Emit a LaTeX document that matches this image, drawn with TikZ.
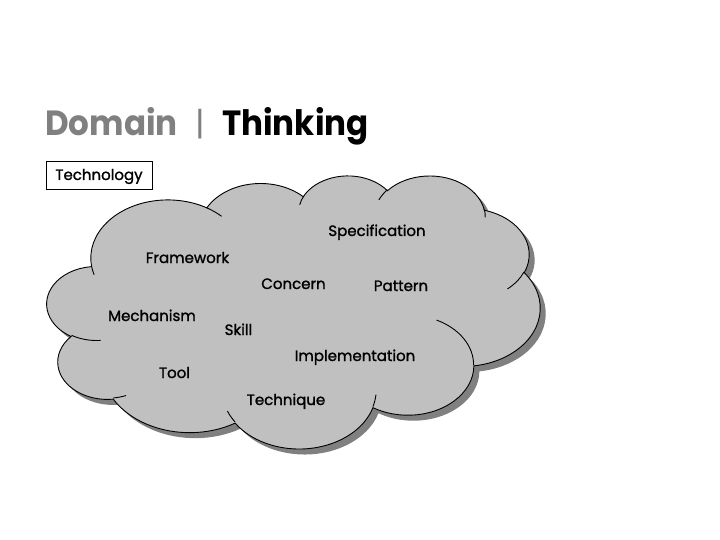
\documentclass[tikz,border=0pt]{standalone}
\usepackage{fontspec}
\setmainfont{Poppins}
\newfontfamily\lblfont{Poppins}[FakeBold=1.3]
\definecolor{cloudfill}{HTML}{C0C0C0}
\definecolor{cloudshadow}{HTML}{808080}
\definecolor{titlegray}{HTML}{808080}
\tikzset{
  lbl/.style={anchor=base, inner sep=0pt, text=black, font=\lblfont\fontsize{15}{18}\selectfont},
  titletext/.style={anchor=base west, inner sep=0pt, xscale=0.93, font=\fontsize{35}{40}\selectfont\bfseries},
  cloudedge/.style={draw=black, line width=0.9pt},
  techbox/.style={draw=black, line width=0.8pt, minimum width=106pt, minimum height=28pt, inner sep=0pt, text height=11pt, text depth=1pt, font=\lblfont\fontsize{15}{17}\selectfont},
}
\newcommand{\cloudpath}{(39.00,143.70)
  arc[start angle=172.26, delta angle=128.10, x radius=67.53, y radius=91.90]
  arc[start angle=-152.02, delta angle=106.60, x radius=53.33, y radius=72.67]
  arc[start angle=-153.49, delta angle=116.18, x radius=43.65, y radius=59.45]
  arc[start angle=-139.71, delta angle=129.50, x radius=48.57, y radius=65.95]
  arc[start angle=-74.77, delta angle=97.98, x radius=53.33, y radius=72.73]
  arc[start angle=-37.53, delta angle=119.39, x radius=67.75, y radius=92.20]
  arc[start angle=0.46, delta angle=121.52, x radius=57.85, y radius=78.67]
  arc[start angle=16.85, delta angle=129.38, x radius=67.52, y radius=92.15]
  arc[start angle=58.98, delta angle=91.22, x radius=77.20, y radius=105.43]
  arc[start angle=83.31, delta angle=139.80, x radius=43.60, y radius=59.18]
  arc[start angle=120.36, delta angle=143.75, x radius=43.45, y radius=59.45]
  -- cycle}
\newcommand{\cloudstubs}{
  (46.93,261.77) arc[start angle=85.55, delta angle=34.81, x radius=43.45, y radius=59.45]
  (69.28,348.99) arc[start angle=68.23, delta angle=15.08, x radius=43.60, y radius=59.18]
  (164.78,390.90) arc[start angle=146.23, delta angle=12.24, x radius=67.52, y radius=92.15]
  (288.27,347.51) arc[start angle=4.74, delta angle=12.11, x radius=67.52, y radius=92.15]
  (341.29,229.54) arc[start angle=-64.03, delta angle=64.49, x radius=57.85, y radius=78.67]
  (417.98,153.54) arc[start angle=23.21, delta angle=26.43, x radius=53.33, y radius=72.73]
  (383.24,54.26) arc[start angle=-10.21, delta angle=11.03, x radius=48.57, y radius=65.95]
  (290.78,39.52) arc[start angle=-156.28, delta angle=16.57, x radius=48.57, y radius=65.95]
  (221.41,47.20) arc[start angle=-167.73, delta angle=14.24, x radius=43.65, y radius=59.45]
  (140.00,51.92) arc[start angle=-59.64, delta angle=13.90, x radius=67.53, y radius=91.90]
  (41.27,157.89) arc[start angle=163.20, delta angle=9.06, x radius=67.53, y radius=91.90]}
\begin{document}
\begin{tikzpicture}[x=1pt,y=-1pt]
\useasboundingbox[fill=white] (0,0) rectangle (720,540);
% title
\node[titletext, text=titlegray] (dom) at (45,136) {Domain};
\node[anchor=base, inner sep=0pt, text=titlegray, font=\fontsize{33}{40}\selectfont] (bar) at (200,136) {|};
\node[titletext, text=black] (thk) at (222,136) {Thinking};
% technology box
\node[techbox] (tech) at (99,175) {Technology};
% cloud shadow
\begin{scope}[shift={(52.5pt,-180.5pt)}, x=1.1412pt, y=-0.6319pt]
  \fill[cloudshadow] \cloudpath;
\end{scope}
% cloud
\begin{scope}[shift={(47pt,-175pt)}, x=1.1412pt, y=-0.6319pt]
  \filldraw[fill=cloudfill, cloudedge] \cloudpath;
  \draw[cloudedge] \cloudstubs;
\end{scope}
% labels
\node[lbl] (spec) at (377,236) {Specification};
\node[lbl] (fw) at (187.5,263) {Framework};
\node[lbl] (conc) at (293.5,289) {Concern};
\node[lbl] (pat) at (401,291) {Pattern};
\node[lbl] (mech) at (152,321) {Mechanism};
\node[lbl] (skill) at (238.5,335) {Skill};
\node[lbl] (impl) at (355,361) {Implementation};
\node[lbl] (tool) at (174.5,378) {Tool};
\node[lbl] (tech2) at (286,405) {Technique};
\end{tikzpicture}
\end{document}
